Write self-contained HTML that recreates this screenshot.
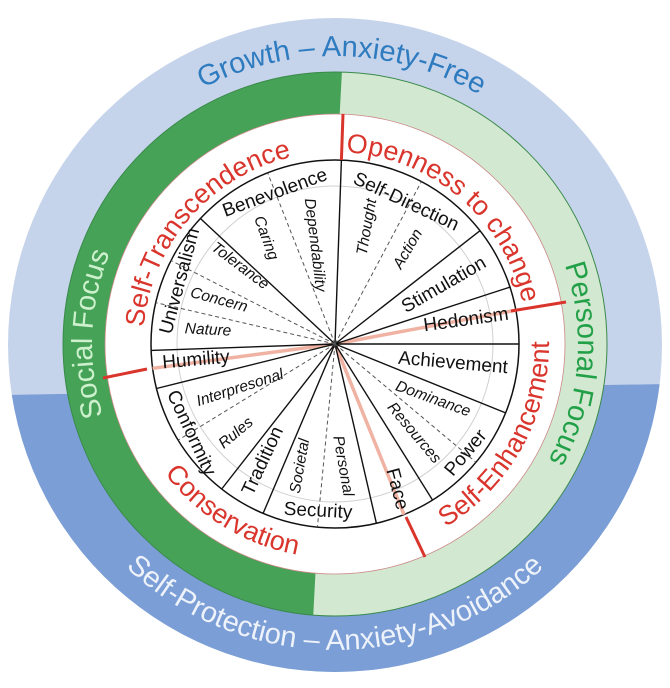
<!DOCTYPE html>
<html><head><meta charset="utf-8"><style>
html,body{margin:0;padding:0;background:#fff;width:670px;height:688px;overflow:hidden}
svg{display:block}
text{font-family:"Liberation Sans",sans-serif}
.v{font-size:19px;fill:#111}
.s{font-size:15.5px;font-style:italic;fill:#111}
.r{font-size:27px;fill:#d9352c}
</style></head><body>
<svg width="670" height="688" viewBox="0 0 670 688" xmlns="http://www.w3.org/2000/svg">
<defs>
<clipPath id="co"><circle cx="335" cy="345" r="327"/></clipPath>
<clipPath id="cg"><circle cx="335" cy="344" r="272"/></clipPath>
<path id="pGrowth" d="M64.4,245.5 A288,288 0 0 1 605.6,245.5"/>
<path id="pSelfP" d="M47.5,448.7 A306,306 0 0 0 622.5,448.7"/>
<path id="pSocial" d="M213.5,554.4 A243,243 0 0 1 213.5,133.6"/>
<path id="pPers" d="M456.5,133.6 A243,243 0 0 1 456.5,554.4"/>
<path id="pST" d="M143,344 A192,192 0 0 1 335,152"/>
<path id="pOC" d="M335,152 A192,192 0 0 1 527,344"/>
<path id="pSE" d="M335,558 A214,214 0 0 0 549,344"/>
<path id="pCO" d="M121,344 A214,214 0 0 0 335,558"/>
</defs>
<g clip-path="url(#co)">
<rect x="0" y="0" width="670" height="688" fill="#c6d4eb"/>
<polygon points="0,395 670,384 670,688 0,688" fill="#7a9ed5"/>
</g>
<g clip-path="url(#cg)">
<rect x="0" y="0" width="670" height="688" fill="#d3e8d0"/>
<polygon points="0,0 345.7,0 309.4,688 0,688" fill="#45a257"/>
</g>
<circle cx="335" cy="344" r="272" fill="none" stroke="#3a8a4a" stroke-width="1"/>
<circle cx="335" cy="344" r="230" fill="#fff" stroke="#c88" stroke-width="0.8"/>
<circle cx="335" cy="344" r="158" fill="none" stroke="#d0d0d0" stroke-width="1"/>
<circle cx="335" cy="344" r="184" fill="none" stroke="#111" stroke-width="1.5"/>
<g stroke="#f0b3a3" stroke-width="3.5">
<line x1="335" y1="344" x2="515.8" y2="310.2"/>
<line x1="335" y1="344" x2="152.6" y2="368.3"/>
<line x1="335" y1="344" x2="404" y2="514.6"/>
</g>
<g stroke="#111" stroke-width="1.4">
<line x1="335" y1="344" x2="341.4" y2="160.1"/>
<line x1="335" y1="344" x2="200.4" y2="218.5"/>
<line x1="335" y1="344" x2="151.1" y2="350.4"/>
<line x1="335" y1="344" x2="156.5" y2="388.5"/>
<line x1="335" y1="344" x2="221.7" y2="489"/>
<line x1="335" y1="344" x2="263.1" y2="513.4"/>
<line x1="335" y1="344" x2="376.4" y2="523.3"/>
<line x1="335" y1="344" x2="432.5" y2="500"/>
<line x1="335" y1="344" x2="505.6" y2="412.9"/>
<line x1="335" y1="344" x2="519" y2="344"/>
<line x1="335" y1="344" x2="510" y2="287.1"/>
<line x1="335" y1="344" x2="480" y2="230.7"/>
</g>
<g stroke="#555" stroke-width="1" stroke-dasharray="4,3">
<line x1="335" y1="344" x2="171" y2="260.5"/>
<line x1="335" y1="344" x2="155.7" y2="302.6"/>
<line x1="335" y1="344" x2="267.6" y2="172.8"/>
<line x1="335" y1="344" x2="421.4" y2="181.5"/>
<line x1="335" y1="344" x2="178.1" y2="440.1"/>
<line x1="335" y1="344" x2="317.4" y2="527.2"/>
<line x1="335" y1="344" x2="476" y2="462.3"/>
</g>
<g stroke="#d9352c" stroke-width="3">
<line x1="341.4" y1="160" x2="343" y2="114"/>
<line x1="511" y1="311" x2="566" y2="302"/>
<line x1="147" y1="369" x2="103" y2="378"/>
<line x1="406" y1="517" x2="425" y2="557"/>
</g>
<text style="font-size:29px;fill:#2e7bbf"><textPath href="#pGrowth" startOffset="51%" text-anchor="middle">Growth – Anxiety-Free</textPath></text>
<text style="font-size:29px;fill:#eef2fa"><textPath href="#pSelfP" startOffset="50%" text-anchor="middle">Self-Protection – Anxiety-Avoidance</textPath></text>
<text style="font-size:29px;fill:#cdf0cd"><textPath href="#pSocial" startOffset="52%" text-anchor="middle">Social Focus</textPath></text>
<text style="font-size:29px;fill:#22a048"><textPath href="#pPers" startOffset="54%" text-anchor="middle">Personal Focus</textPath></text>
<text class="r"><textPath href="#pST" startOffset="45.5%" text-anchor="middle">Self-Transcendence</textPath></text>
<text class="r"><textPath href="#pOC" startOffset="45%" text-anchor="middle">Openness to change</textPath></text>
<text class="r"><textPath href="#pSE" startOffset="67.7%" text-anchor="middle">Self-Enhancement</textPath></text>
<text class="r"><textPath href="#pCO" startOffset="65%" text-anchor="middle">Conservation</textPath></text>
<g text-anchor="middle" dominant-baseline="central">
<text class="v" transform="translate(275,193) rotate(-20)">Benevolence</text>
<text class="v" transform="translate(406,202) rotate(25)">Self-Direction</text>
<text class="v" transform="translate(180,281) rotate(-75)">Universalism</text>
<text class="v" transform="translate(444,285) rotate(-30)">Stimulation</text>
<text class="v" transform="translate(466,320) rotate(-8)">Hedonism</text>
<text class="v" transform="translate(453,363) rotate(5)">Achievement</text>
<text class="v" transform="translate(196,360) rotate(-5)">Humility</text>
<text class="v" transform="translate(191,433) rotate(65)">Conformity</text>
<text class="v" transform="translate(263,461) rotate(-65)">Tradition</text>
<text class="v" transform="translate(318,511) rotate(3)">Security</text>
<text class="v" transform="translate(397,489) rotate(75)">Face</text>
<text class="v" transform="translate(466,453) rotate(-50)">Power</text>
<text class="s" transform="translate(266,238) rotate(70)">Caring</text>
<text class="s" transform="translate(315,245) rotate(83)">Dependability</text>
<text class="s" transform="translate(367,227) rotate(-80)">Thought</text>
<text class="s" transform="translate(408,249) rotate(-60)">Action</text>
<text class="s" transform="translate(240,266) rotate(37)">Tolerance</text>
<text class="s" transform="translate(219,300) rotate(15)">Concern</text>
<text class="s" transform="translate(208,330) rotate(3)">Nature</text>
<text class="s" transform="translate(240,388) rotate(-18)">Interpresonal</text>
<text class="s" transform="translate(236,433) rotate(-40)">Rules</text>
<text class="s" transform="translate(300,466) rotate(-80)">Societal</text>
<text class="s" transform="translate(343,466) rotate(80)">Personal</text>
<text class="s" transform="translate(433,399) rotate(20)">Dominance</text>
<text class="s" transform="translate(414,433) rotate(50)">Resources</text>
</g>
</svg>
</body></html>
